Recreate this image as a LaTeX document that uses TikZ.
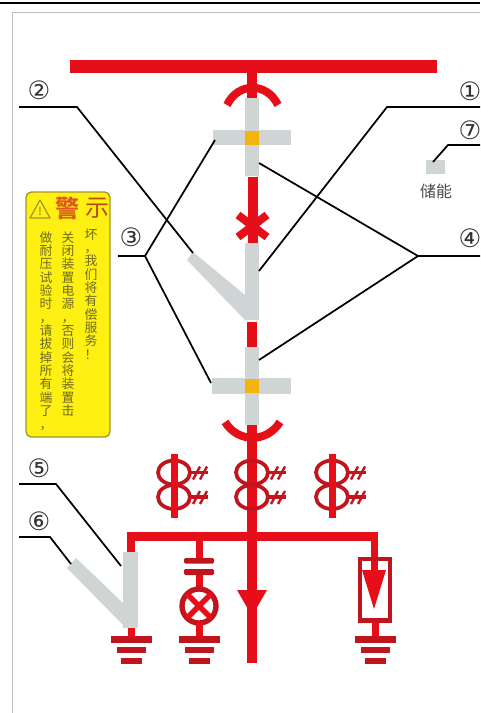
\documentclass[tikz,border=0pt]{standalone}
\usepackage{fontspec}
\newfontfamily\cjk{Noto Sans CJK SC}
\newfontfamily\symb{DejaVu Sans}
\definecolor{cE60F19}{RGB}{230,15,25}
\definecolor{cC0141E}{RGB}{192,20,30}
\definecolor{cCFD5D5}{RGB}{207,213,213}
\definecolor{cF5B40A}{RGB}{245,180,10}
\definecolor{cFFF014}{RGB}{255,240,20}
\definecolor{cA09628}{RGB}{160,150,40}
\definecolor{c6E6A1E}{RGB}{110,106,30}
\definecolor{cDC5A1E}{RGB}{220,90,30}
\definecolor{cBEBEC4}{RGB}{190,190,196}
\tikzset{
  leader/.style={draw=black,line width=1.3pt},
  numlabel/.style={font=\symb\fontsize{19}{19}\selectfont,text=black!80},
  warntext/.style={font=\cjk\fontsize{9.6}{10}\selectfont,text=c6E6A1E,
    text width=10pt,align=center,text height=7.6pt,text depth=1.4pt},
  redbar/.style={fill=cE60F19},
  greybar/.style={fill=cCFD5D5},
  redline/.style={draw=cE60F19,line width=6pt},
  darkline/.style={draw=cC0141E,line width=2.8pt}
}
\newcommand{\groundbars}[2]{%
  \path[fill=cC0141E] (#1-20.5,636) rectangle (#1+20.5,642.5);
  \path[fill=cC0141E] (#1-14.5,647) rectangle (#1+14.5,653);
  \path[fill=cC0141E] (#1-10.5,658) rectangle (#1+10.5,664);
  \path[redbar] (#1-3.5,#2) rectangle (#1+3.5,637);
}
\newcommand{\ctcoil}[2]{%
  \path[darkline] (#1,#2) ellipse [x radius=16,y radius=12];
  \path[darkline] (#1+16,#2) -- (#1+34,#2);
  \path[darkline,line width=1.8pt] (#1+19,#2+7) -- (#1+26,#2-6);
  \path[darkline,line width=1.8pt] (#1+26,#2+7) -- (#1+33,#2-6);
}
\begin{document}
\begin{tikzpicture}[y=0.75pt,x=0.75pt,yscale=-1, inner sep=0pt, outer sep=0pt]
  \useasboundingbox (0,0) rectangle (480,713);
  \path[fill=white] (0,0) rectangle (480,713);
  % page edge
  \path[draw=black,line width=1pt] (0,3) -- (480,3);
  \path[draw=cBEBEC4,line width=0.8pt] (480,12.5) -- (12.5,12.5) -- (12.5,713);
  % busbar and upper contact
  \path[redbar] (70,60) rectangle (437,73.5);
  \path[greybar] (244.5,98) rectangle (259,176);
  \path[greybar] (213,130) rectangle (291,145);
  \path[fill=cF5B40A] (244.5,131) rectangle (259,145);
  \path[redbar] (247,73) rectangle (257,98);
  \path[redline,line cap=butt] (227,105) .. controls (238,82) and (267,82) .. (278,105);
  % breaker
  \path[redbar] (247.5,177) rectangle (258,243);
  \path[redline] (238,215) -- (267,237);
  \path[redline] (267,215) -- (238,237);
  \path[greybar] (244.5,243) rectangle (259,320);
  \path[greybar] (193,252) -- (187,260) -- (245,320) -- (245,295) -- cycle;
  \path[redbar] (247,322) rectangle (257,347);
  % lower contact
  \path[greybar] (244.5,347) rectangle (259,425);
  \path[greybar] (212,378) rectangle (291,394);
  \path[fill=cF5B40A] (245,379) rectangle (258.5,393);
  \path[redline] (225,422) .. controls (238,443) and (267,443) .. (280,422);
  \path[redbar] (247,425) rectangle (257,663);
  % current transformers
  \foreach \cx in {174,252,332} {
    \ctcoil{\cx}{472.5}
    \ctcoil{\cx}{497}
  }
  \path[redbar] (170.5,454) rectangle (177.5,518);
  \path[redbar] (328.5,454) rectangle (335.5,518);
  % arrow on main line
  \path[redbar] (237,590) -- (267,590) -- (252,616) -- cycle;
  % branch bus
  \path[redbar] (127,532) rectangle (378,541);
  \path[redbar] (127,532) rectangle (135,552);
  % earthing switch
  \path[greybar] (123,552) rectangle (138,628);
  \path[greybar] (76,558) -- (67,568) -- (123,625) -- (138,628) -- (123,603) -- cycle;
  \groundbars{131}{628}
  % capacitor and lamp
  \path[redbar] (195.5,541) rectangle (202.5,560);
  \path[fill=cC0141E,rounded corners=1pt] (184,558) rectangle (214,563.5);
  \path[fill=cC0141E,rounded corners=1pt] (184,569) rectangle (214,575);
  \path[redbar] (195.5,575) rectangle (202.5,590);
  \path[darkline,line width=4pt] (199,606) circle [radius=17];
  \path[redline,line width=4pt] (187,594) -- (211,618);
  \path[redline,line width=4pt] (211,594) -- (187,618);
  \groundbars{199}{622}
  % arrester
  \path[redbar] (370.5,541) rectangle (378,572);
  \path[darkline,line width=3.5pt] (360,559) rectangle (390,620.5);
  \path[redbar] (362,570) -- (386,570) -- (374,609) -- cycle;
  \groundbars{375}{622}
  % storage
  \path[greybar] (426,160) rectangle (445,174);
  \node (storage) [font=\cjk\fontsize{12}{12}\selectfont,text=black!70] at (436,191) {储能};
  % warning plate
  \path[fill=cFFF014,draw=cA09628,line width=1pt,rounded corners=4pt] (26,192) rectangle (110,437);
  \path[draw=cA09628,line width=0.9pt,line join=round] (40,200) -- (50,218) -- (30,218) -- cycle;
  \node (warnmark) [font=\cjk\fontsize{8}{8}\selectfont,text=c6E6A1E] at (40,212) {!};
  \node (warnone) [font=\cjk\bfseries\fontsize{18}{18}\selectfont,text=cDC5A1E] at (67,208) {警};
  \node (warntwo) [font=\cjk\fontsize{18}{18}\selectfont,text=cDC5A1E!85!black] at (97,208) {示};
  \foreach \ch [count=\i from 0] in {做,耐,压,试,验,时,，,请,拔,掉,所,有,端,了,，}
    \node (warna\i) [warntext] at (46,238+\i*13.35) {\ch};
  \foreach \ch [count=\i from 0] in {关,闭,装,置,电,源,，,否,则,会,将,装,置,击}
    \node (warnb\i) [warntext] at (68,238+\i*13.35) {\ch};
  \foreach \ch [count=\i from 0] in {坏,，,我,们,将,有,偿,服,务,！}
    \node (warnc\i) [warntext] at (91,235+\i*13.35) {\ch};
  % labels
  \node (numone) [numlabel] at (470,91) {①};
  \node (numtwo) [numlabel] at (39,90) {②};
  \node (numthree) [numlabel] at (131,237) {③};
  \node (numfour) [numlabel] at (470,238) {④};
  \node (numfive) [numlabel] at (39,468) {⑤};
  \node (numsix) [numlabel] at (39,521) {⑥};
  \node (numseven) [numlabel] at (470,130) {⑦};
  % leader lines
  \coordinate (edgeone) at (480,107);
  \coordinate (kneeone) at (387,107);
  \coordinate (endone) at (259,271);
  \coordinate (starttwo) at (19,107);
  \coordinate (kneetwo) at (77,107);
  \coordinate (endtwo) at (193,253);
  \coordinate (startthree) at (118,256);
  \coordinate (kneethree) at (145,256);
  \coordinate (endthreea) at (215,140);
  \coordinate (endthreeb) at (211,383);
  \coordinate (edgefour) at (480,256);
  \coordinate (kneefour) at (418,256);
  \coordinate (endfoura) at (259,163);
  \coordinate (endfourb) at (259,360);
  \coordinate (startfive) at (19,484);
  \coordinate (kneefive) at (56,484);
  \coordinate (endfive) at (121,566);
  \coordinate (startsix) at (19,537);
  \coordinate (kneesix) at (50,537);
  \coordinate (endsix) at (71,564);
  \coordinate (edgeseven) at (480,145);
  \coordinate (kneeseven) at (448,145);
  \coordinate (endseven) at (433,162);
  \path[leader] (edgeone) -- (kneeone) -- (endone);
  \path[leader] (starttwo) -- (kneetwo) -- (endtwo);
  \path[leader] (startthree) -- (kneethree) -- (endthreea);
  \path[leader] (kneethree) -- (endthreeb);
  \path[leader] (edgefour) -- (kneefour) -- (endfoura);
  \path[leader] (kneefour) -- (endfourb);
  \path[leader] (startfive) -- (kneefive) -- (endfive);
  \path[leader] (startsix) -- (kneesix) -- (endsix);
  \path[leader] (edgeseven) -- (kneeseven) -- (endseven);
\end{tikzpicture}
\end{document}
